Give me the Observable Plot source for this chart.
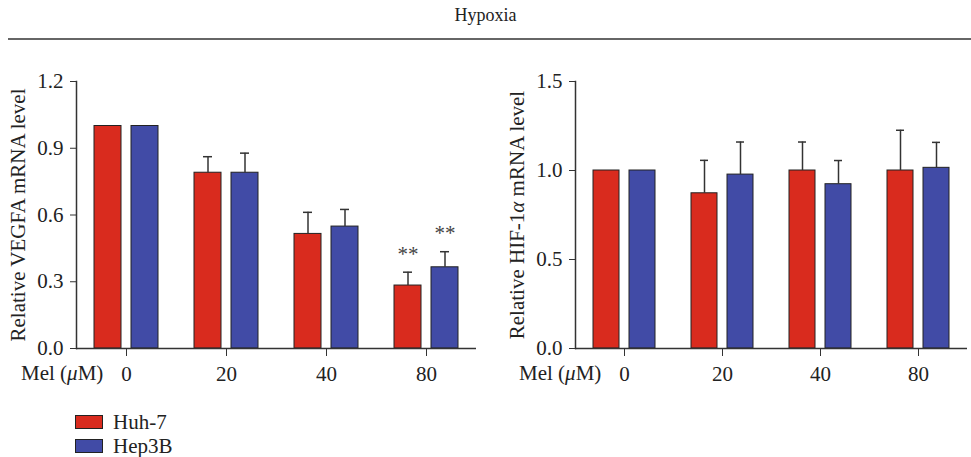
<!DOCTYPE html>
<html>
<head>
<meta charset="utf-8">
<script src="https://cdn.jsdelivr.net/npm/d3@7"></script>
<script src="https://cdn.jsdelivr.net/npm/@observablehq/plot@0.6"></script>
<style>
  body { margin: 0; background: #fff; font-family: "Liberation Serif", "Times New Roman", serif; }
  #root { position: relative; width: 971px; height: 457px; overflow: hidden; background: #fff; }
  .title { position: absolute; left: 0; top: 5px; width: 971px; text-align: center; font-size: 18px; line-height: 20px; color: #222; }
  .hr { position: absolute; left: 8px; right: 0; top: 38px; height: 2px; background: #666; }
  .panel { position: absolute; top: 60px; }
  .xlab { position: absolute; font-size: 21px; line-height: 20px; color: #222; white-space: nowrap; }
  .legend { position: absolute; left: 75px; top: 410px; font-size: 21px; color: #222; }
  .legend .item { display: flex; align-items: center; height: 24px; }
  .legend .sw { width: 26px; height: 12px; border: 1px solid #222; margin-right: 10px; }
</style>
</head>
<body>
<div id="root">
  <div class="title">Hypoxia</div>
  <div class="hr"></div>
  <div class="panel" id="left" style="left:0px"></div>
  <div class="panel" id="right" style="left:480px"></div>
  <div class="xlab" style="left:21px; top:363px">Mel (<i>μ</i>M)</div>
  <div class="xlab" style="left:519px; top:363px">Mel (<i>μ</i>M)</div>
  <div class="legend" id="legend"></div>
</div>
<script>
// ---- data ----
const doses = ["0", "20", "40", "80"];
const cellLines = ["Huh-7", "Hep3B"];
const lineColors = ["#D92B1E", "#414BA6"];

const vegfaHuh7 = [1.0, 0.79, 0.515, 0.283];
const vegfaHuh7Err = [0, 0.072, 0.097, 0.06];
const vegfaHep3B = [1.0, 0.79, 0.548, 0.365];
const vegfaHep3BErr = [0, 0.088, 0.077, 0.07];
const vegfaHuh7Sig = ["", "", "", "**"];
const vegfaHep3BSig = ["", "", "", "**"];

const hifHuh7 = [1.0, 0.872, 1.0, 1.0];
const hifHuh7Err = [0, 0.185, 0.16, 0.226];
const hifHep3B = [1.0, 0.977, 0.923, 1.015];
const hifHep3BErr = [0, 0.183, 0.133, 0.143];
const hifHuh7Sig = ["", "", "", ""];
const hifHep3BSig = ["", "", "", ""];

const vegfaTicks = [0, 0.3, 0.6, 0.9, 1.2];
const hifTicks = [0, 0.5, 1.0, 1.5];

function rowsOf(a, aErr, aSig, b, bErr, bSig) {
  return doses.flatMap((d, i) => [
    {dose: d, line: cellLines[0], value: a[i], err: aErr[i], sig: aSig[i]},
    {dose: d, line: cellLines[1], value: b[i], err: bErr[i], sig: bSig[i]}
  ]);
}

function italicize(svg, ch) {
  svg.querySelectorAll("text").forEach(t => {
    if (t.children.length === 0 && t.textContent.includes(ch)) {
      const parts = t.textContent.split(ch);
      t.textContent = "";
      parts.forEach((p, k) => {
        const s = document.createElementNS("http://www.w3.org/2000/svg", "tspan");
        s.textContent = p; t.appendChild(s);
        if (k < parts.length - 1) {
          const it = document.createElementNS("http://www.w3.org/2000/svg", "tspan");
          it.setAttribute("font-style", "italic");
          it.textContent = ch; t.appendChild(it);
        }
      });
    }
  });
}

function panel({rows, label, yMax, ticks, width, marginLeft, marginRight}) {
  const fw = (width - marginLeft - marginRight) / doses.length;
  const barW = 27, gap = 10;
  const pi = gap / (barW + gap);
  const po = (fw / (barW + gap) - 2 + pi) / 2;
  const withErr = rows.filter(d => d.err > 0);
  const svg = Plot.plot({
    width, height: 330, marginLeft, marginRight, marginTop: 21, marginBottom: 42,
    style: {fontFamily: "Liberation Serif, Times New Roman, serif", fontSize: "21px", color: "#222", background: "transparent"},
    fx: {domain: doses, padding: 0},
    x: {domain: cellLines, axis: null, paddingInner: pi, paddingOuter: po},
    y: {domain: [0, yMax]},
    color: {domain: cellLines, range: lineColors},
    marks: [
      Plot.barY(rows, {fx: "dose", x: "line", y: "value", fill: "line", stroke: "#222", strokeWidth: 1}),
      Plot.ruleX(withErr, {fx: "dose", x: "line", y1: "value", y2: d => d.value + d.err, stroke: "#333", strokeWidth: 1.5}),
      Plot.tickY(withErr, {fx: "dose", x: "line", y: d => d.value + d.err, insetLeft: 9, insetRight: 9, stroke: "#333", strokeWidth: 1.5}),
      Plot.text(rows.filter(d => d.sig), {fx: "dose", x: "line", y: d => d.value + d.err, text: "sig", dy: -18, fontSize: 21, fill: "#444"}),
      Plot.ruleY([0], {stroke: "#333", strokeWidth: 1.5}),
      Plot.frame({anchor: "left", facetAnchor: "left", stroke: "#333", strokeWidth: 1.5}),
      Plot.axisY({ticks, tickFormat: ".1f", tickSize: 6, tickPadding: 7, fontSize: 21, stroke: "#333",
        label, labelAnchor: "center", labelOffset: 66, labelArrow: "none"}),
      Plot.axisFx({anchor: "bottom", label: null, tickSize: 8, tickPadding: 10, fontSize: 21, stroke: "#333"})
    ]
  });
  italicize(svg, "α");
  return svg;
}

document.getElementById("left").appendChild(panel({
  rows: rowsOf(vegfaHuh7, vegfaHuh7Err, vegfaHuh7Sig, vegfaHep3B, vegfaHep3BErr, vegfaHep3BSig),
  label: "Relative VEGFA mRNA level", yMax: 1.2, ticks: vegfaTicks,
  width: 480, marginLeft: 76, marginRight: 4
}));
document.getElementById("right").appendChild(panel({
  rows: rowsOf(hifHuh7, hifHuh7Err, hifHuh7Sig, hifHep3B, hifHep3BErr, hifHep3BSig),
  label: "Relative HIF-1α mRNA level", yMax: 1.5, ticks: hifTicks,
  width: 491, marginLeft: 94, marginRight: 3
}));

const legend = document.getElementById("legend");
cellLines.forEach((name, i) => {
  const item = document.createElement("div");
  item.className = "item";
  const sw = document.createElement("div");
  sw.className = "sw"; sw.style.background = lineColors[i];
  const tx = document.createElement("span"); tx.textContent = name;
  item.appendChild(sw); item.appendChild(tx);
  legend.appendChild(item);
});
</script>
</body>
</html>
